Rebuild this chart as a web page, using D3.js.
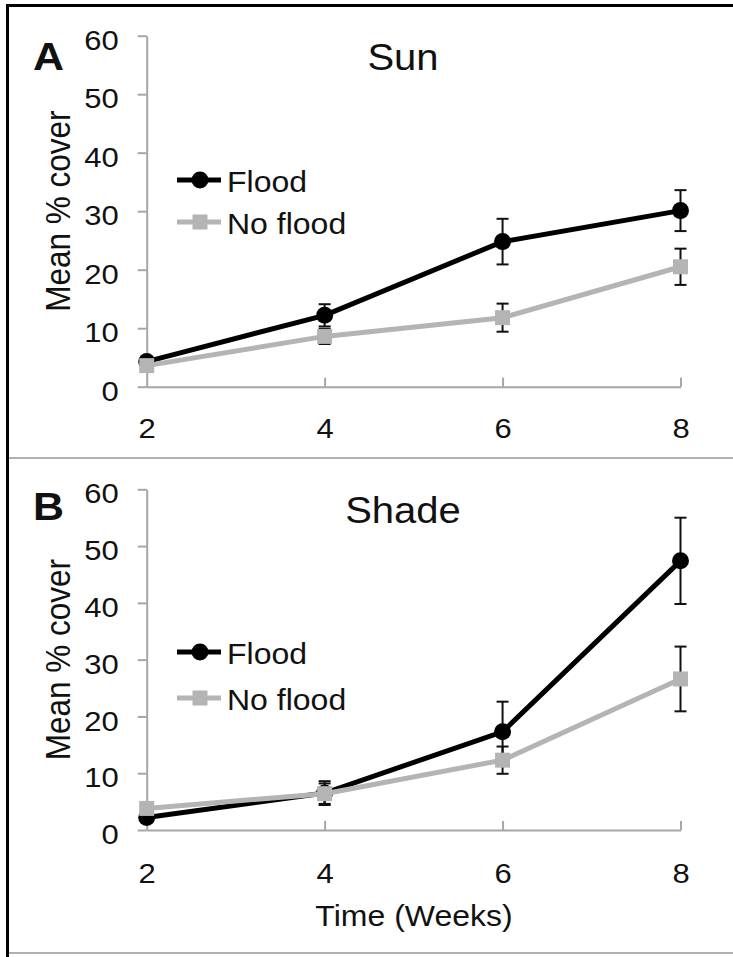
<!DOCTYPE html>
<head>
<meta charset="utf-8">
<style>
body { margin: 0; background: #fff; }
text { font-family: "Liberation Sans", Arial, sans-serif; fill: #111; }
.axis path, .axis line { stroke: #a6a6a6; stroke-width: 2px; }
</style>
</head>
<body>
<script src="https://cdnjs.cloudflare.com/ajax/libs/d3/7.8.5/d3.min.js"></script>
<script>
// values
var weeks = [2, 4, 6, 8];
var xTicks = [2, 4, 6, 8];
var yTicks = [0, 10, 20, 30, 40, 50, 60];
var seriesNames = ["Flood", "No flood"];

var sunFlood = [4.3, 12.2, 24.8, 30.1];
var sunFloodErr = [0.5, 1.9, 3.9, 3.5];
var sunNoFlood = [3.6, 8.6, 11.8, 20.5];
var sunNoFloodErr = [0.4, 1.3, 2.4, 3.1];

var shadeFlood = [2.2, 6.5, 17.3, 47.4];
var shadeFloodErr = [0.5, 2.1, 5.3, 7.6];
var shadeNoFlood = [3.8, 6.4, 12.3, 26.6];
var shadeNoFloodErr = [0.5, 1.8, 2.4, 5.7];

var width = 733, height = 957;
var sy = 0.9; // text in the source is squashed vertically

var svg = d3.select("body").append("svg")
    .attr("width", width)
    .attr("height", height);

// frame
svg.append("line").attr("x1", 7.5).attr("x2", 7.5).attr("y1", 4).attr("y2", height)
    .attr("stroke", "#000").attr("stroke-width", 3);
svg.append("line").attr("x1", 6).attr("x2", width).attr("y1", 5.5).attr("y2", 5.5)
    .attr("stroke", "#000").attr("stroke-width", 3);
svg.append("line").attr("x1", 9).attr("x2", width).attr("y1", 458).attr("y2", 458)
    .attr("stroke", "#b0b0b0").attr("stroke-width", 2);
svg.append("line").attr("x1", 9).attr("x2", width).attr("y1", 953).attr("y2", 953)
    .attr("stroke", "#b0b0b0").attr("stroke-width", 2);

var panels = [
  { letter: "A", title: "Sun", top: 35.7, bottom: 386.7, tickOff: 51, letterY: 70, titleY: 70,
    flood: sunFlood, floodErr: sunFloodErr, noFlood: sunNoFlood, noFloodErr: sunNoFloodErr,
    legendY: [180, 222], xLabel: false },
  { letter: "B", title: "Shade", top: 489.3, bottom: 830, tickOff: 53, letterY: 520, titleY: 523,
    flood: shadeFlood, floodErr: shadeFloodErr, noFlood: shadeNoFlood, noFloodErr: shadeNoFloodErr,
    legendY: [652, 698], xLabel: true }
];

var colors = ["#000", "#b4b4b4"];

function label(g, txt, x, y, size, anchor, extra) {
  return g.append("text")
      .attr("transform", "translate(" + x + "," + y + ") scale(1," + sy + ")" + (extra || ""))
      .attr("text-anchor", anchor)
      .style("font-size", size + "px")
      .text(txt);
}

panels.forEach(function(p) {
  var x = d3.scaleLinear().domain([2, 8]).range([146.7, 680.5]);
  var y = d3.scaleLinear().domain([0, 60]).range([p.bottom, p.top]);
  var g = svg.append("g");

  // y axis
  var ya = g.append("g").attr("class", "axis")
      .attr("transform", "translate(" + x(2) + ",0)")
      .call(d3.axisLeft(y).tickValues(yTicks).tickFormat(d3.format("d"))
        .tickSize(9).tickSizeOuter(0).tickPadding(19));
  ya.selectAll("text").attr("dy", null).style("font-size", "31px")
      .attr("transform", "translate(0,13.6) scale(1," + sy + ")");

  // x axis, ticks point up
  var xa = g.append("g").attr("class", "axis")
      .attr("transform", "translate(0," + p.bottom + ")")
      .call(d3.axisBottom(x).tickValues(xTicks).tickFormat(d3.format("d"))
        .tickSizeInner(-9).tickSizeOuter(0).tickPadding(0));
  xa.selectAll(".tick").filter(function(d) { return d === 2; }).select("line").remove();
  xa.selectAll("text").attr("dy", null).attr("y", null).style("font-size", "31px")
      .attr("transform", "translate(0," + p.tickOff + ") scale(1," + sy + ")");

  // labels
  g.append("text")
      .attr("transform", "translate(33," + p.letterY + ") scale(1," + sy + ")")
      .style("font-size", "43px").style("font-weight", "bold")
      .text(p.letter);
  label(g, p.title, 403, p.titleY, 40, "middle");
  label(g, "Mean % cover", 70, (p.top + p.bottom) / 2, 35, "middle", " rotate(-90)");
  if (p.xLabel) label(g, "Time (Weeks)", 414, 926, 32, "middle");

  var sets = [
    { vals: p.flood, err: p.floodErr, color: colors[0], shape: "circle" },
    { vals: p.noFlood, err: p.noFloodErr, color: colors[1], shape: "square" }
  ];

  var line = d3.line().x(function(d) { return x(d.w); }).y(function(d) { return y(d.v); });

  sets.forEach(function(s) {
    var pts = weeks.map(function(w, i) { return { w: w, v: s.vals[i], e: s.err[i] }; });

    var eb = g.append("g").attr("stroke", "#111").attr("stroke-width", 2);
    eb.selectAll(".v").data(pts).enter().append("line")
        .attr("x1", function(d) { return x(d.w); }).attr("x2", function(d) { return x(d.w); })
        .attr("y1", function(d) { return y(d.v + d.e); }).attr("y2", function(d) { return y(d.v - d.e); });
    [1, -1].forEach(function(sgn) {
      eb.selectAll(".c" + sgn).data(pts).enter().append("line")
          .attr("x1", function(d) { return x(d.w) - 6; }).attr("x2", function(d) { return x(d.w) + 6; })
          .attr("y1", function(d) { return y(d.v + sgn * d.e); }).attr("y2", function(d) { return y(d.v + sgn * d.e); });
    });

    g.append("path").datum(pts)
        .attr("d", line).attr("fill", "none")
        .attr("stroke", s.color).attr("stroke-width", 5);

    if (s.shape === "circle") {
      g.selectAll(".m").data(pts).enter().append("circle")
          .attr("cx", function(d) { return x(d.w); }).attr("cy", function(d) { return y(d.v); })
          .attr("r", 8.5).attr("fill", s.color);
    } else {
      g.selectAll(".m").data(pts).enter().append("rect")
          .attr("x", function(d) { return x(d.w) - 7.5; }).attr("y", function(d) { return y(d.v) - 7.5; })
          .attr("width", 15).attr("height", 15).attr("fill", s.color);
    }
  });

  // legend
  seriesNames.forEach(function(name, i) {
    var ly = p.legendY[i];
    g.append("line").attr("x1", 177).attr("x2", 221).attr("y1", ly).attr("y2", ly)
        .attr("stroke", colors[i]).attr("stroke-width", 5);
    if (i === 0) {
      g.append("circle").attr("cx", 200).attr("cy", ly).attr("r", 8.5).attr("fill", colors[i]);
    } else {
      g.append("rect").attr("x", 192.5).attr("y", ly - 7.5).attr("width", 15).attr("height", 15)
          .attr("fill", colors[i]);
    }
    label(g, name, 227, ly + 12, 32, "start");
  });
});
</script>
</body>
</html>
